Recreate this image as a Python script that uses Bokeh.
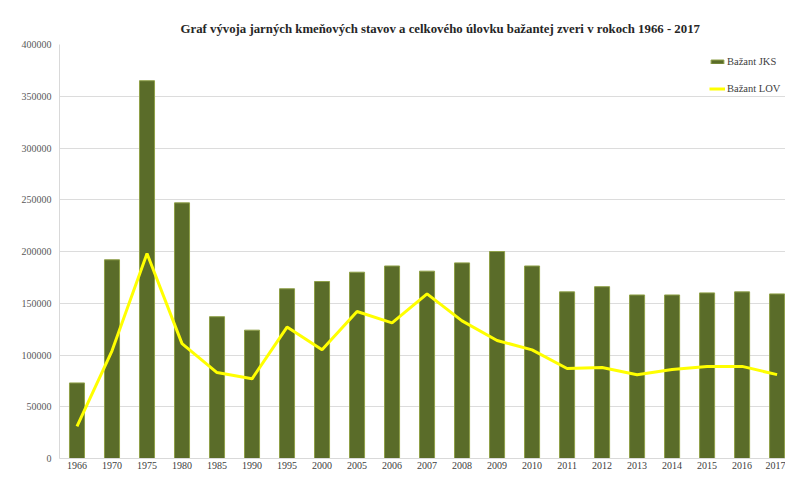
from bokeh.plotting import figure
from bokeh.models import ColumnDataSource, Range1d, FixedTicker, BasicTickFormatter, Legend, LegendItem
from bokeh.embed import file_html
from bokeh.resources import INLINE

years = ["1966", "1970", "1975", "1980", "1985", "1990", "1995", "2000", "2005", "2006", "2007",
         "2008", "2009", "2010", "2011", "2012", "2013", "2014", "2015", "2016", "2017"]
jks = [73000, 192000, 365000, 247000, 137000, 124000, 164000, 171000, 180000, 186000, 181000,
       189000, 200000, 186000, 161000, 166000, 158000, 158000, 160000, 161000, 159000]
lov = [31000, 104000, 198000, 111000, 83000, 77000, 127000, 105000, 142000, 131000, 159000,
       133000, 114000, 105000, 87000, 88000, 81000, 86000, 89000, 89000, 81000]
y_ticks = [0, 50000, 100000, 150000, 200000, 250000, 300000, 350000, 400000]

title_text = "Graf vývoja jarných kmeňových stavov a celkového úlovku bažantej zveri v rokoch 1966 - 2017"

idx = list(range(len(years)))
src = ColumnDataSource(dict(x=idx, jks=jks, lov=lov, year=years))

FONT = "Liberation Serif"

p = figure(width=785, height=474, output_backend="svg", toolbar_location=None,
           x_range=Range1d(-0.5, 20.24), y_range=Range1d(0, 400000),
           min_border_left=59, min_border_right=0, min_border_top=44, min_border_bottom=16,
           title=title_text)

p.title.align = "left"
p.title.text_font = FONT
p.title.text_font_size = "12.8px"
p.title.text_font_style = "bold"
p.title.text_color = "#262626"
p.title.offset = 121
p.title.standoff = 18

bars = p.vbar(x="x", top="jks", width=0.43, source=src, fill_color="#5a6c29",
              line_color="#8fa048", line_width=1)
ln = p.line(x="x", y="lov", source=src, line_color="#ffff00", line_width=3)

p.xaxis.ticker = FixedTicker(ticks=idx)
p.xaxis.major_label_overrides = {i: y for i, y in zip(idx, years)}
p.xaxis.major_label_text_font = FONT
p.xaxis.major_label_text_font_size = "10px"
p.xaxis.major_label_text_color = "#404040"
p.xaxis.major_tick_out = 0
p.xaxis.major_tick_in = 0
p.xaxis.minor_tick_line_color = None
p.xaxis.axis_line_color = "#d9d9d9"
p.xaxis.major_label_standoff = 3

p.yaxis.ticker = FixedTicker(ticks=y_ticks)
p.yaxis.formatter = BasicTickFormatter(use_scientific=False)
p.yaxis.major_label_text_font = FONT
p.yaxis.major_label_text_font_size = "10px"
p.yaxis.major_label_text_color = "#595959"
p.yaxis.major_tick_out = 0
p.yaxis.major_tick_in = 0
p.yaxis.minor_tick_line_color = None
p.yaxis.axis_line_color = "#d9d9d9"
p.yaxis.major_label_standoff = 8

p.xgrid.grid_line_color = None
p.ygrid.grid_line_color = "#dcdcdc"
p.ygrid.ticker = FixedTicker(ticks=y_ticks)
p.outline_line_color = None

legend = Legend(items=[LegendItem(label="Bažant JKS", renderers=[bars]),
                       LegendItem(label="Bažant LOV", renderers=[ln])],
                location=(650, 364))
legend.label_text_font = FONT
legend.label_text_font_size = "10.5px"
legend.label_text_color = "#404040"
legend.glyph_height = 5
legend.glyph_width = 16
legend.label_standoff = 2
legend.label_height = 10
legend.spacing = 16
legend.margin = 0
legend.padding = 0
legend.border_line_alpha = 0
legend.background_fill_alpha = 0
p.add_layout(legend)

open("out.html", "w").write(file_html(p, INLINE))
